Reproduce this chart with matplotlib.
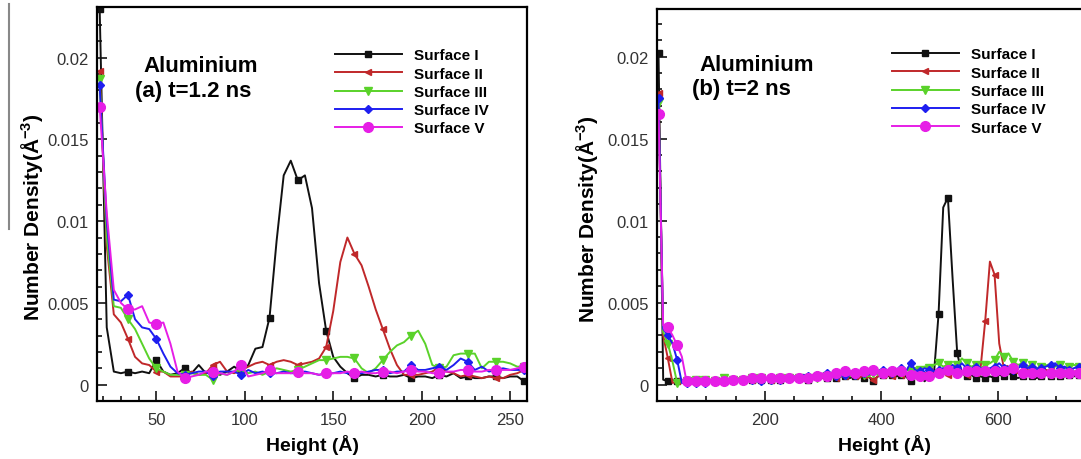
import numpy as np
import matplotlib
matplotlib.use("Agg")
import matplotlib.pyplot as plt
from matplotlib.lines import Line2D
from matplotlib.ticker import MultipleLocator

plt.rcParams['font.family'] = ['Liberation Sans', 'DejaVu Sans']
plt.rcParams['mathtext.fontset'] = 'custom'
plt.rcParams['mathtext.rm'] = 'Liberation Sans:bold'
plt.rcParams['mathtext.bf'] = 'Liberation Sans:bold'
plt.rcParams['mathtext.default'] = 'bf'

labels = ['Surface I', 'Surface II', 'Surface III', 'Surface IV', 'Surface V']
colors = ['#111111', '#c0282a', '#5ad22a', '#1e1ef0', '#e61ee6']
markers = ['s', '<', 'v', 'D', 'o']
msizes = [4.5, 5, 5.5, 4.5, 7]

# (a) t = 1.2 ns, sampled every 4 A
height_a = np.arange(18, 262, 4)
s1_a = [0.0230, 0.0035, 0.0008, 0.0007, 0.0008, 0.0007, 0.0008, 0.0007, 0.0015, 0.0008,
        0.0006, 0.0007, 0.0010, 0.0007, 0.0012, 0.0007, 0.0009, 0.0006, 0.0008, 0.0011,
        0.0008, 0.0012, 0.0022, 0.0023, 0.0041, 0.0088, 0.0128, 0.0137, 0.0125, 0.0128,
        0.0108, 0.0062, 0.0033, 0.0017, 0.0011, 0.0007, 0.0004, 0.0006, 0.0006, 0.0005,
        0.0006, 0.0005, 0.0005, 0.0006, 0.0004, 0.0005, 0.0005, 0.0004, 0.0006, 0.0005,
        0.0007, 0.0004, 0.0005, 0.0004, 0.0004, 0.0005, 0.0005, 0.0004, 0.0005, 0.0005,
        0.0002]
s2_a = [0.0192, 0.0085, 0.0043, 0.0038, 0.0028, 0.0017, 0.0013, 0.0012, 0.0008, 0.0008,
        0.0005, 0.0005, 0.0005, 0.0008, 0.0006, 0.0007, 0.0012, 0.0014, 0.0008, 0.0007,
        0.0009, 0.0011, 0.0013, 0.0014, 0.0012, 0.0014, 0.0015, 0.0014, 0.0012, 0.0013,
        0.0014, 0.0016, 0.0023, 0.0045, 0.0075, 0.0090, 0.0080, 0.0073, 0.0060, 0.0046,
        0.0034, 0.0022, 0.0012, 0.0006, 0.0006, 0.0006, 0.0007, 0.0008, 0.0011, 0.0008,
        0.0007, 0.0005, 0.0006, 0.0005, 0.0004, 0.0005, 0.0004, 0.0004, 0.0006, 0.0007,
        0.0009]
s3_a = [0.0187, 0.0090, 0.0048, 0.0047, 0.0040, 0.0034, 0.0025, 0.0016, 0.0010, 0.0008,
        0.0006, 0.0006, 0.0006, 0.0007, 0.0006, 0.0006, 0.0003, 0.0007, 0.0006, 0.0008,
        0.0009, 0.0007, 0.0008, 0.0006, 0.0008, 0.0010, 0.0009, 0.0008, 0.0009, 0.0011,
        0.0013, 0.0015, 0.0015, 0.0016, 0.0017, 0.0017, 0.0016, 0.0010, 0.0007, 0.0010,
        0.0015, 0.0020, 0.0024, 0.0026, 0.0030, 0.0033, 0.0025, 0.0012, 0.0010, 0.0011,
        0.0018, 0.0019, 0.0019, 0.0019, 0.0010, 0.0014, 0.0014, 0.0014, 0.0013, 0.0011,
        0.0011]
s4_a = [0.0183, 0.0100, 0.0052, 0.0051, 0.0055, 0.0040, 0.0035, 0.0034, 0.0028, 0.0019,
        0.0011, 0.0007, 0.0006, 0.0007, 0.0008, 0.0008, 0.0005, 0.0008, 0.0008, 0.0008,
        0.0006, 0.0009, 0.0007, 0.0008, 0.0007, 0.0007, 0.0008, 0.0007, 0.0007, 0.0008,
        0.0007, 0.0006, 0.0007, 0.0007, 0.0008, 0.0007, 0.0007, 0.0007, 0.0008, 0.0009,
        0.0009, 0.0007, 0.0008, 0.0008, 0.0012, 0.0009, 0.0009, 0.0010, 0.0011, 0.0009,
        0.0012, 0.0016, 0.0014, 0.0009, 0.0011, 0.0008, 0.0009, 0.0010, 0.0009, 0.0009,
        0.0009]
s5_a = [0.0170, 0.0105, 0.0058, 0.0050, 0.0046, 0.0046, 0.0048, 0.0038, 0.0037, 0.0038,
        0.0025, 0.0008, 0.0004, 0.0005, 0.0006, 0.0008, 0.0008, 0.0007, 0.0006, 0.0008,
        0.0012, 0.0005, 0.0006, 0.0007, 0.0009, 0.0007, 0.0007, 0.0007, 0.0008, 0.0007,
        0.0007, 0.0006, 0.0007, 0.0007, 0.0007, 0.0008, 0.0007, 0.0008, 0.0007, 0.0007,
        0.0008, 0.0008, 0.0007, 0.0008, 0.0009, 0.0008, 0.0008, 0.0007, 0.0007, 0.0008,
        0.0008, 0.0009, 0.0009, 0.0008, 0.0008, 0.0009, 0.0009, 0.0009, 0.0009, 0.0010,
        0.0011]

# (b) t = 2 ns, sampled every 8 A
height_b = np.arange(18, 800, 8)
s1_b = [0.0202, 0.0003, 0.0002, 0.0003, 0.0002, 0.0002, 0.0003, 0.0002, 0.0002, 0.0003,
        0.0002, 0.0003, 0.0002, 0.0003, 0.0003, 0.0002, 0.0003, 0.0002, 0.0003, 0.0003,
        0.0003, 0.0002, 0.0003, 0.0004, 0.0003, 0.0004, 0.0003, 0.0004, 0.0004, 0.0003,
        0.0004, 0.0004, 0.0003, 0.0004, 0.0005, 0.0004, 0.0004, 0.0005, 0.0004, 0.0005,
        0.0005, 0.0004, 0.0005, 0.0005, 0.0004, 0.0005, 0.0002, 0.0005, 0.0006, 0.0005,
        0.0006, 0.0005, 0.0006, 0.0005, 0.0002, 0.0005, 0.0006, 0.0002, 0.0005, 0.0006,
        0.0043, 0.0108, 0.0114, 0.0065, 0.0019, 0.0007, 0.0005, 0.0006, 0.0004, 0.0005,
        0.0004, 0.0005, 0.0004, 0.0006, 0.0005, 0.0007, 0.0005, 0.0004, 0.0005, 0.0006,
        0.0005, 0.0004, 0.0005, 0.0006, 0.0005, 0.0006, 0.0005, 0.0005, 0.0006, 0.0005,
        0.0006, 0.0005, 0.0006, 0.0005, 0.0006, 0.0005, 0.0006, 0.0006]
s2_b = [0.0178, 0.0030, 0.0016, 0.0001, 0.0002, 0.0002, 0.0003, 0.0002, 0.0002, 0.0003,
        0.0002, 0.0003, 0.0002, 0.0002, 0.0003, 0.0003, 0.0002, 0.0003, 0.0003, 0.0002,
        0.0003, 0.0003, 0.0004, 0.0003, 0.0003, 0.0004, 0.0004, 0.0003, 0.0004, 0.0004,
        0.0004, 0.0005, 0.0004, 0.0004, 0.0005, 0.0004, 0.0005, 0.0005, 0.0004, 0.0005,
        0.0005, 0.0006, 0.0005, 0.0004, 0.0006, 0.0005, 0.0003, 0.0005, 0.0006, 0.0006,
        0.0005, 0.0007, 0.0006, 0.0007, 0.0006, 0.0007, 0.0006, 0.0007, 0.0008, 0.0007,
        0.0008, 0.0007, 0.0006, 0.0008, 0.0009, 0.0007, 0.0006, 0.0008, 0.0007, 0.0010,
        0.0039, 0.0075, 0.0067, 0.0025, 0.0010, 0.0008, 0.0009, 0.0007, 0.0008, 0.0009,
        0.0008, 0.0007, 0.0008, 0.0009, 0.0008, 0.0007, 0.0008, 0.0008, 0.0007, 0.0008,
        0.0008, 0.0009, 0.0008, 0.0008, 0.0009, 0.0008, 0.0008, 0.0009]
s3_b = [0.0172, 0.0032, 0.0025, 0.0014, 0.0001, 0.0003, 0.0002, 0.0003, 0.0003, 0.0002,
        0.0003, 0.0003, 0.0002, 0.0003, 0.0004, 0.0003, 0.0003, 0.0004, 0.0003, 0.0003,
        0.0004, 0.0003, 0.0004, 0.0004, 0.0003, 0.0004, 0.0004, 0.0003, 0.0004, 0.0005,
        0.0004, 0.0005, 0.0004, 0.0005, 0.0004, 0.0006, 0.0005, 0.0004, 0.0006, 0.0005,
        0.0006, 0.0005, 0.0006, 0.0007, 0.0006, 0.0005, 0.0007, 0.0006, 0.0007, 0.0008,
        0.0007, 0.0008, 0.0007, 0.0009, 0.0008, 0.0010, 0.0009, 0.0011, 0.0010, 0.0012,
        0.0013, 0.0011, 0.0012, 0.0010, 0.0012, 0.0016, 0.0013, 0.0011, 0.0012, 0.0010,
        0.0012, 0.0013, 0.0015, 0.0020, 0.0017, 0.0019, 0.0014, 0.0012, 0.0013, 0.0011,
        0.0012, 0.0010, 0.0011, 0.0012, 0.0010, 0.0011, 0.0012, 0.0010, 0.0011, 0.0012,
        0.0011, 0.0012, 0.0010, 0.0011, 0.0012, 0.0011, 0.0010, 0.0011]
s4_b = [0.0175, 0.0034, 0.0030, 0.0025, 0.0015, 0.0001, 0.0001, 0.0002, 0.0001, 0.0002,
        0.0001, 0.0002, 0.0002, 0.0003, 0.0002, 0.0003, 0.0002, 0.0003, 0.0003, 0.0002,
        0.0003, 0.0003, 0.0002, 0.0004, 0.0003, 0.0004, 0.0003, 0.0004, 0.0004, 0.0005,
        0.0004, 0.0006, 0.0005, 0.0004, 0.0006, 0.0005, 0.0007, 0.0006, 0.0005, 0.0007,
        0.0006, 0.0007, 0.0006, 0.0008, 0.0007, 0.0006, 0.0008, 0.0007, 0.0009, 0.0008,
        0.0007, 0.0009, 0.0010, 0.0008, 0.0013, 0.0009, 0.0008, 0.0010, 0.0009, 0.0008,
        0.0009, 0.0010, 0.0009, 0.0012, 0.0010, 0.0013, 0.0010, 0.0009, 0.0011, 0.0010,
        0.0009, 0.0010, 0.0011, 0.0013, 0.0010, 0.0011, 0.0009, 0.0010, 0.0012, 0.0010,
        0.0011, 0.0009, 0.0010, 0.0011, 0.0012, 0.0013, 0.0010, 0.0011, 0.0009, 0.0010,
        0.0011, 0.0010, 0.0012, 0.0010, 0.0011, 0.0010, 0.0011, 0.0010]
s5_b = [0.0165, 0.0036, 0.0035, 0.0030, 0.0024, 0.0017, 0.0002, 0.0003, 0.0002, 0.0003,
        0.0002, 0.0003, 0.0002, 0.0003, 0.0002, 0.0003, 0.0003, 0.0002, 0.0003, 0.0003,
        0.0004, 0.0003, 0.0004, 0.0003, 0.0004, 0.0003, 0.0004, 0.0005, 0.0004, 0.0005,
        0.0004, 0.0005, 0.0004, 0.0006, 0.0005, 0.0007, 0.0005, 0.0006, 0.0007, 0.0006,
        0.0008, 0.0006, 0.0007, 0.0006, 0.0008, 0.0007, 0.0009, 0.0008, 0.0007, 0.0009,
        0.0008, 0.0009, 0.0008, 0.0007, 0.0006, 0.0008, 0.0005, 0.0007, 0.0005, 0.0006,
        0.0007, 0.0008, 0.0009, 0.0008, 0.0007, 0.0006, 0.0008, 0.0009, 0.0008, 0.0007,
        0.0008, 0.0009, 0.0008, 0.0007, 0.0008, 0.0009, 0.0010, 0.0008, 0.0007, 0.0006,
        0.0007, 0.0006, 0.0007, 0.0008, 0.0007, 0.0008, 0.0007, 0.0008, 0.0007, 0.0008,
        0.0007, 0.0008, 0.0007, 0.0008, 0.0007, 0.0008, 0.0007, 0.0008]

W, H = 1081, 460
fig = plt.figure(figsize=(W / 100, H / 100), dpi=100)
ax_a = fig.add_axes([97 / W, 58 / H, 430 / W, 394 / H])
ax_b = fig.add_axes([657 / W, 58 / H, 456 / W, 392 / H])

# stray grey rule on the left edge of the scan
fig.add_artist(Line2D([9 / W, 9 / W], [1 - 5 / H, 1 - 230 / H], color='#888888', lw=1.5,
                      transform=fig.transFigure))


def draw_panel(ax, x, series, every, xlim, ylim, xmajor, xminor, line2, txt_x, txt_y, leg_xy):
    for y, c, m, ms, lab in zip(series, colors, markers, msizes, labels):
        ax.plot(x, y, color=c, lw=1.4, marker=m, ms=ms, markevery=every,
                markerfacecolor=c, markeredgecolor=c, label=lab)
    ax.set_xlim(*xlim)
    ax.set_ylim(*ylim)
    ax.xaxis.set_major_locator(MultipleLocator(xmajor))
    ax.xaxis.set_minor_locator(MultipleLocator(xminor))
    ax.yaxis.set_major_locator(MultipleLocator(0.005))
    ax.yaxis.set_minor_locator(MultipleLocator(0.001))
    ax.yaxis.set_major_formatter(plt.FuncFormatter(lambda v, p: '0' if abs(v) < 1e-9 else ('%g' % v)))
    ax.tick_params(which='both', direction='in', top=False, right=False,
                   labelsize=12, labelcolor='#333333', width=1.1)
    ax.tick_params(which='major', length=7)
    ax.tick_params(axis='y', which='major', pad=6)
    ax.tick_params(axis='x', which='major', pad=8)
    ax.tick_params(which='minor', length=3.5)
    for s in ax.spines.values():
        s.set_linewidth(1.6)
    ax.set_xlabel('Height (Å)', fontsize=14, fontweight='bold', labelpad=5)
    ax.set_ylabel('Number Density(Å$^{-3}$)', fontsize=15, fontweight='bold')
    ax.text(txt_x[0], txt_y[0], 'Aluminium', transform=ax.transAxes, fontsize=16,
            fontweight='bold', ha='left', va='center')
    ax.text(txt_x[1], txt_y[1], line2, transform=ax.transAxes, fontsize=16,
            fontweight='bold', ha='left', va='center')
    handles = [Line2D([], [], color=c, lw=1.4, marker=m, ms=ms, markerfacecolor=c,
                      markeredgecolor=c) for c, m, ms in zip(colors, markers, msizes)]
    ax.legend(handles, labels, loc='upper left', bbox_to_anchor=leg_xy,
              frameon=False, prop={'size': 11, 'weight': 'bold'}, handlelength=4.4,
              handletextpad=0.8, labelspacing=0.28, borderpad=0, borderaxespad=0,
              numpoints=1)


draw_panel(ax_a, height_a, [s1_a, s2_a, s3_a, s4_a, s5_a], (0, 4), (16.5, 259.5), (-0.001, 0.0231),
           50, 10, '(a) t=1.2 ns', (0.107, 0.088), (0.851, 0.789), (0.553, 0.895))
draw_panel(ax_b, height_b, [s1_b, s2_b, s3_b, s4_b, s5_b], (0, 2), (15.4, 797), (-0.001, 0.0229),
           200, 50, '(b) t=2 ns', (0.094, 0.077), (0.858, 0.797), (0.515, 0.902))
ax_a.yaxis.set_label_coords(-0.12, 0.47)
ax_b.yaxis.set_label_coords(-0.125, 0.465)

fig.savefig('out.png', dpi=100)
